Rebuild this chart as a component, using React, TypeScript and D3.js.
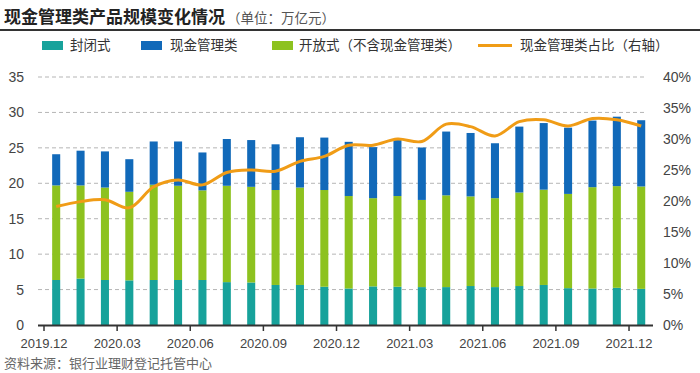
import * as d3 from 'd3';

const months = [
  '2019.12', '2020.01', '2020.02', '2020.03', '2020.04', '2020.05', '2020.06', '2020.07', '2020.08',
  '2020.09', '2020.10', '2020.11', '2020.12', '2021.01', '2021.02', '2021.03', '2021.04', '2021.05',
  '2021.06', '2021.07', '2021.08', '2021.09', '2021.10', '2021.11', '2021.12',
];

// 万亿元
const closedEnd = [6.35, 6.55, 6.35, 6.3, 6.35, 6.35, 6.35, 6.05, 6.0, 5.65, 5.65, 5.4, 5.15, 5.45, 5.4, 5.35, 5.35, 5.5, 5.35, 5.5, 5.65, 5.2, 5.15, 5.25, 5.1];
const openEnd = [13.35, 13.15, 13.05, 12.5, 13.45, 13.3, 12.65, 13.6, 13.5, 13.4, 13.75, 13.65, 13.05, 12.45, 12.8, 12.3, 12.95, 12.65, 12.55, 13.2, 13.45, 13.3, 14.3, 14.35, 14.45];
const cashMgmt = [4.4, 4.9, 5.1, 4.6, 6.1, 6.25, 5.35, 6.6, 6.6, 6.45, 7.1, 7.4, 7.65, 7.2, 7.9, 7.4, 9.0, 8.95, 7.75, 9.3, 9.4, 9.35, 9.4, 9.8, 9.35];
// 占比 %
const cashShare = [19.1, 19.9, 20.2, 18.9, 22.3, 23.4, 22.6, 24.6, 25.0, 24.8, 26.4, 27.2, 29.0, 29.0, 30.0, 29.6, 32.4, 32.0, 30.5, 32.8, 33.1, 32.1, 33.3, 33.1, 32.1];

const leftTicks = [0, 5, 10, 15, 20, 25, 30, 35];
const rightTicks = [0, 5, 10, 15, 20, 25, 30, 35, 40];

const seriesNames = ['封闭式', '现金管理类', '开放式（不含现金管理类）'];
const colors = ['#17a29b', '#1169b9', '#8dc21f'];
const lineColor = '#f09c16';

const W = 700;
const H = 373;
const numFont = '"Liberation Sans", Arial, sans-serif';
const cjkFont = '"Noto Sans CJK SC", sans-serif';

export default function App() {
  const x = d3.scaleBand<string>().domain(months).range([44, 653.4]).paddingInner(0.67).paddingOuter(0.335);
  const step = x.step();
  const left = (m: string) => 44 + months.indexOf(m) * step;
  const y = d3.scaleLinear().domain([0, 35]).range([325, 77]);
  const yr = d3.scaleLinear().domain([0, 40]).range([325, 77]);

  // stack order bottom→top: closed, open, cash
  const rows = months.map((m, i) => ({ m, closed: closedEnd[i], open: openEnd[i], cash: cashMgmt[i] }));
  const stack = d3.stack<any>().keys(['closed', 'open', 'cash'])(rows);
  const keyColor: Record<string, string> = { closed: colors[0], cash: colors[1], open: colors[2] };

  const line = d3.line<number>()
    .x((_, i) => left(months[i]) + step / 2)
    .y(d => yr(d))
    .curve(d3.curveCatmullRom.alpha(0.5));

  const tickMonths = months.filter((_, i) => i % 3 === 0);

  const legend = [
    { x: 42, tx: 70, label: seriesNames[0], color: colors[0] },
    { x: 141, tx: 170, label: seriesNames[1], color: colors[1] },
    { x: 272, tx: 299, label: seriesNames[2], color: colors[2] },
  ];

  return (
    <svg width={W} height={H} style={{ position: 'absolute', left: 0, top: 0, background: '#fff' }}>
      {/* title */}
      <text x={4} y={23} fontFamily={cjkFont} fontSize={17} fontWeight={700} fill="#222">
        现金管理类产品规模变化情况
        <tspan fontSize={13.5} fontWeight={400} fill="#555" dx={2}>（单位：万亿元）</tspan>
      </text>
      <line x1={0} x2={W} y1={30} y2={30} stroke="#333" strokeWidth={2} />

      {/* legend */}
      {legend.map(l => (
        <g key={l.label}>
          <rect x={l.x} y={41} width={21} height={9} fill={l.color} />
          <text x={l.tx} y={50} fontFamily={cjkFont} fontSize={13.5} fill="#333">{l.label}</text>
        </g>
      ))}
      <line x1={478} x2={512} y1={45.5} y2={45.5} stroke={lineColor} strokeWidth={3} />
      <text x={520} y={50} fontFamily={cjkFont} fontSize={13.5} fill="#333">现金管理类占比（右轴）</text>

      {/* grid */}
      {leftTicks.filter(t => t > 0).map(t => (
        <line key={t} x1={38} x2={646} y1={y(t)} y2={y(t)} stroke="#b5b5b5" strokeWidth={1} strokeDasharray="4,3" />
      ))}

      {/* left axis labels */}
      {leftTicks.map(t => (
        <text key={t} x={24} y={y(t) + 5} textAnchor="end" fontFamily={numFont} fontSize={14} fill="#444">{t}</text>
      ))}
      {/* right axis labels */}
      {rightTicks.map(t => (
        <text key={t} x={663} y={yr(t) + 5} fontFamily={numFont} fontSize={14} fill="#444">{t}%</text>
      ))}

      {/* bars */}
      {stack.map(s => (
        <g key={s.key} fill={keyColor[s.key]}>
          {s.map((d, i) => (
            <rect key={i} x={x(months[i])} width={x.bandwidth()} y={y(d[1])} height={y(d[0]) - y(d[1])} />
          ))}
        </g>
      ))}

      {/* x axis */}
      <line x1={38} x2={653} y1={325.5} y2={325.5} stroke="#333" strokeWidth={2} />
      {tickMonths.map(m => (
        <g key={m}>
          <line x1={left(m)} x2={left(m)} y1={325} y2={331} stroke="#333" strokeWidth={1.5} />
          <text x={left(m)} y={348} textAnchor="middle" fontFamily={numFont} fontSize={13} fill="#444">{m}</text>
        </g>
      ))}

      {/* share line */}
      <path d={line(cashShare) || ''} fill="none" stroke={lineColor} strokeWidth={3} strokeLinejoin="round" />

      <text x={4} y={368} fontFamily={cjkFont} fontSize={13} fill="#666">资料来源：银行业理财登记托管中心</text>
    </svg>
  );
}
